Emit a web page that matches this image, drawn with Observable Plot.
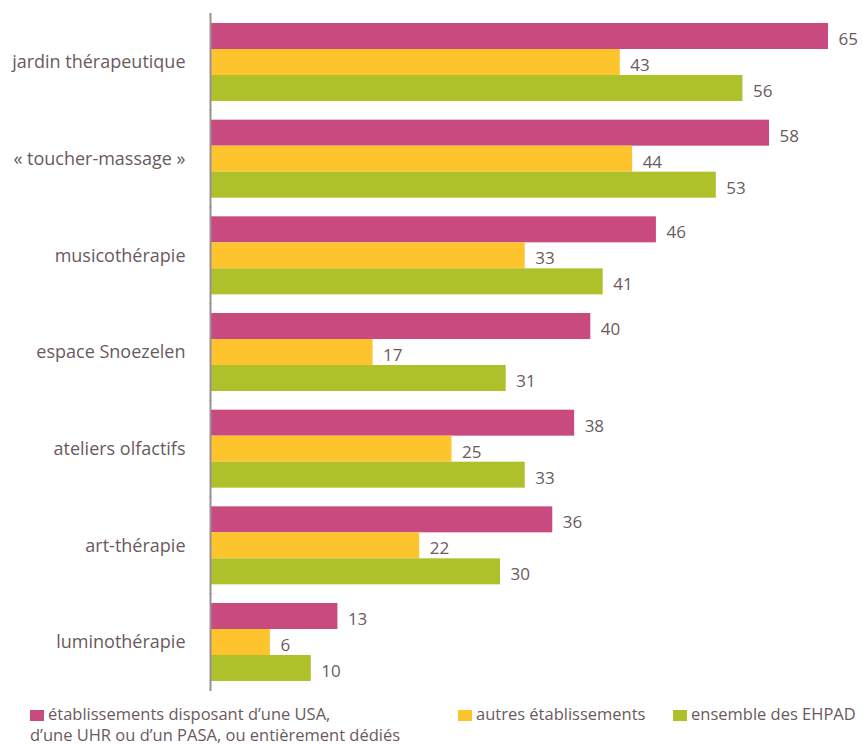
<!DOCTYPE html>
<html>
<head>
<meta charset="utf-8">
<script src="https://cdn.jsdelivr.net/npm/d3@7"></script>
<script src="https://cdn.jsdelivr.net/npm/@observablehq/plot@0.6"></script>
<style>
  html, body { margin: 0; background: #fff; font-family: "Open Sans", sans-serif; color: #6a5a60; overflow: hidden; }
  #legend { position: relative; width: 863px; height: 50px; font-size: 16.5px; }
  .item { position: absolute; line-height: 21px; white-space: nowrap; }
  .sw { display: inline-block; width: 14px; height: 11px; margin-right: 4px; vertical-align: -1px; }
</style>
</head>
<body>
<div id="chart"></div>
<div id="legend"></div>
<script>
const categories = ["jardin thérapeutique", "« toucher-massage »", "musicothérapie", "espace Snoezelen", "ateliers olfactifs", "art-thérapie", "luminothérapie"];
const series = ["établissements disposant d’une USA, d’une UHR ou d’un PASA, ou entièrement dédiés", "autres établissements", "ensemble des EHPAD"];
// values (%) as drawn; labels show the truncated integer
const seriesUSA = [65.0, 58.8, 46.9, 40.0, 38.3, 36.0, 13.4];
const seriesAutres = [43.1, 44.4, 33.1, 17.1, 25.4, 22.0, 6.3];
const seriesEnsemble = [56.0, 53.2, 41.3, 31.1, 33.1, 30.5, 10.6];
const colors = ["#c94a7e", "#fec42d", "#afc12a"];

const allSeries = [seriesUSA, seriesAutres, seriesEnsemble];
const data = [];
categories.forEach((c, i) => {
  series.forEach((s, j) => data.push({cat: c, series: s, value: allSeries[j][i]}));
});

const textColor = "#6a5a60";
const chart = Plot.plot({
  width: 863,
  height: 695,
  marginLeft: 210,
  marginRight: 35,
  marginTop: 23,
  marginBottom: 14,
  style: {fontFamily: "Open Sans, sans-serif", fontSize: "18px", color: textColor, background: "#fff"},
  facet: {data, y: "cat"},
  fy: {domain: categories, paddingInner: 0.193, paddingOuter: 0, round: false, label: null, tickSize: 0, tickPadding: 25},
  x: {domain: [0, 65], axis: null},
  y: {domain: series, padding: 0, axis: null, round: false},
  color: {domain: series, range: colors},
  marks: [
    Plot.barX(data, {x: "value", y: "series", fill: "series"}),
    Plot.text(data, {x: "value", y: "series", text: d => String(Math.floor(d.value)), textAnchor: "start", dx: 10, dy: 3, fill: textColor, fontSize: 17}),
    Plot.ruleX([0], {stroke: "#9a8f93", strokeWidth: 2, insetTop: -10, insetBottom: -10})
  ]
});
document.getElementById("chart").appendChild(chart);

const legend = document.getElementById("legend");
const items = [
  {left: 30, html: `<span class="sw" style="background:${colors[0]}"></span>établissements disposant d’une USA,<br>d’une UHR ou d’un PASA, ou entièrement dédiés`},
  {left: 458, html: `<span class="sw" style="background:${colors[1]}"></span>autres établissements`},
  {left: 673, html: `<span class="sw" style="background:${colors[2]}"></span>ensemble des EHPAD`}
];
items.forEach(it => {
  const d = document.createElement("div");
  d.className = "item";
  d.style.left = it.left + "px";
  d.style.top = "8px";
  d.innerHTML = it.html;
  legend.appendChild(d);
});
</script>
</body>
</html>
